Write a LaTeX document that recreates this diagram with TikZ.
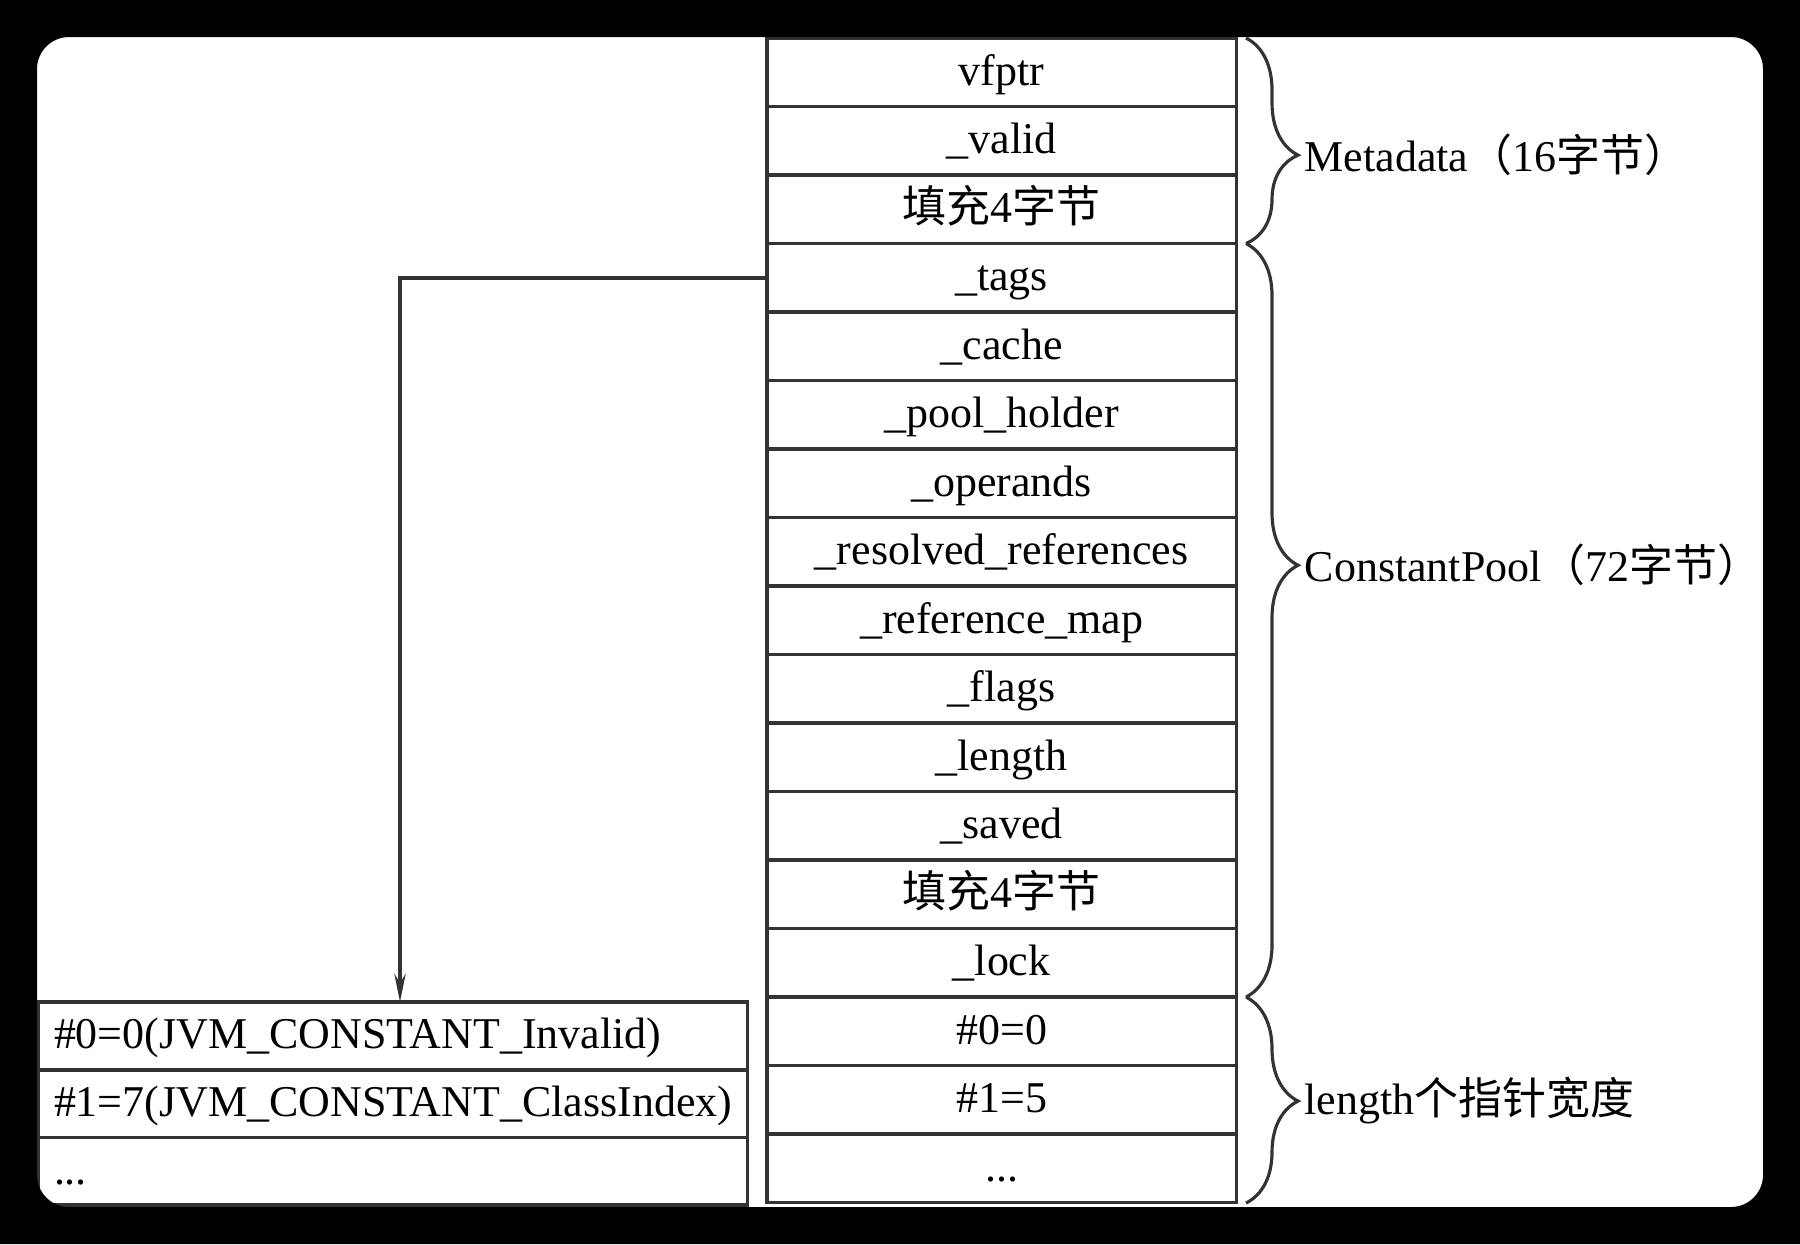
\documentclass[tikz,border=0pt]{standalone}
\usepackage{fontspec}
\setmainfont{Liberation Serif}
\newfontfamily\cjk{Noto Sans CJK SC}
\usetikzlibrary{arrows.meta,decorations.pathreplacing}
\newcommand{\fillfour}{{\cjk 填充}4{\cjk 字节}}
\newcommand{\moredots}{...}
\tikzset{
  cell/.style={draw=black!80, line width=1pt, minimum width=4.69cm, minimum height=0.685cm,
    inner sep=0pt, outer sep=0pt, anchor=north west, text height=0.94em, text depth=0.2em,
    font=\fontsize{12.5}{15}\selectfont},
  entry/.style={cell, minimum width=7.09cm, minimum height=0.677cm, text width=6.77cm,
    inner xsep=0.16cm, align=left},
  bracket/.style={decorate, decoration={brace, amplitude=0.52cm, aspect=#1},
    line width=0.9pt, black!80},
  lbl/.style={anchor=west, inner sep=0pt, font=\fontsize{12.5}{15}\selectfont}
}
\begin{document}
\begin{tikzpicture}[x=0.01cm,y=-0.01cm]
 \useasboundingbox (0,0) rectangle (1800,1244);
 \fill[white] (0,0) rectangle (1800,1244);

 % the ConstantPool object, one cell per field
 \foreach \txt [count=\i] in {vfptr, \_valid, \fillfour, \_tags, \_cache, \_pool\_holder,
     \_operands, \_resolved\_references, \_reference\_map, \_flags, \_length, \_saved,
     \fillfour, \_lock, \#0=0, \#1=5, \moredots}
   \node[cell] (c\i) at (767,{38+(\i-1)*68.5}) {\txt};

 % the tag array
 \node[entry] (t1) at (38,1002)   {\#0=0(JVM\_CONSTANT\_Invalid)};
 \node[entry] (t2) at (38,1069.7) {\#1=7(JVM\_CONSTANT\_ClassIndex)};
 \node[entry] (t3) at (38,1137.4) {\moredots};

 \coordinate (hit) at (400,1002);
 \draw[line width=1pt, black!80, -{Stealth[length=8pt,width=3.2pt]}] (c4.west) -| (hit);

 % braces and their labels
 \draw[bracket=0.57]  (1246,38)    -- (1246,243.5);
 \draw[bracket=0.427] (1246,243.5) -- (1246,997);
 \draw[bracket=0.505] (1246,997)   -- (1246,1203);
 \node[lbl] (meta) at (1304,155)  {Metadata{\cjk （}16{\cjk 字节）}};
 \node[lbl] (pool) at (1304,565)  {ConstantPool{\cjk （}72{\cjk 字节）}};
 \node[lbl] (len)  at (1304,1101) {length{\cjk 个指针宽度}};

 % dark frame round the page
 \fill[black, even odd rule] (0,0) rectangle (1800,1244)
   {[rounded corners=0.32cm] (37,37) rectangle (1763,1207)};
\end{tikzpicture}
\end{document}
